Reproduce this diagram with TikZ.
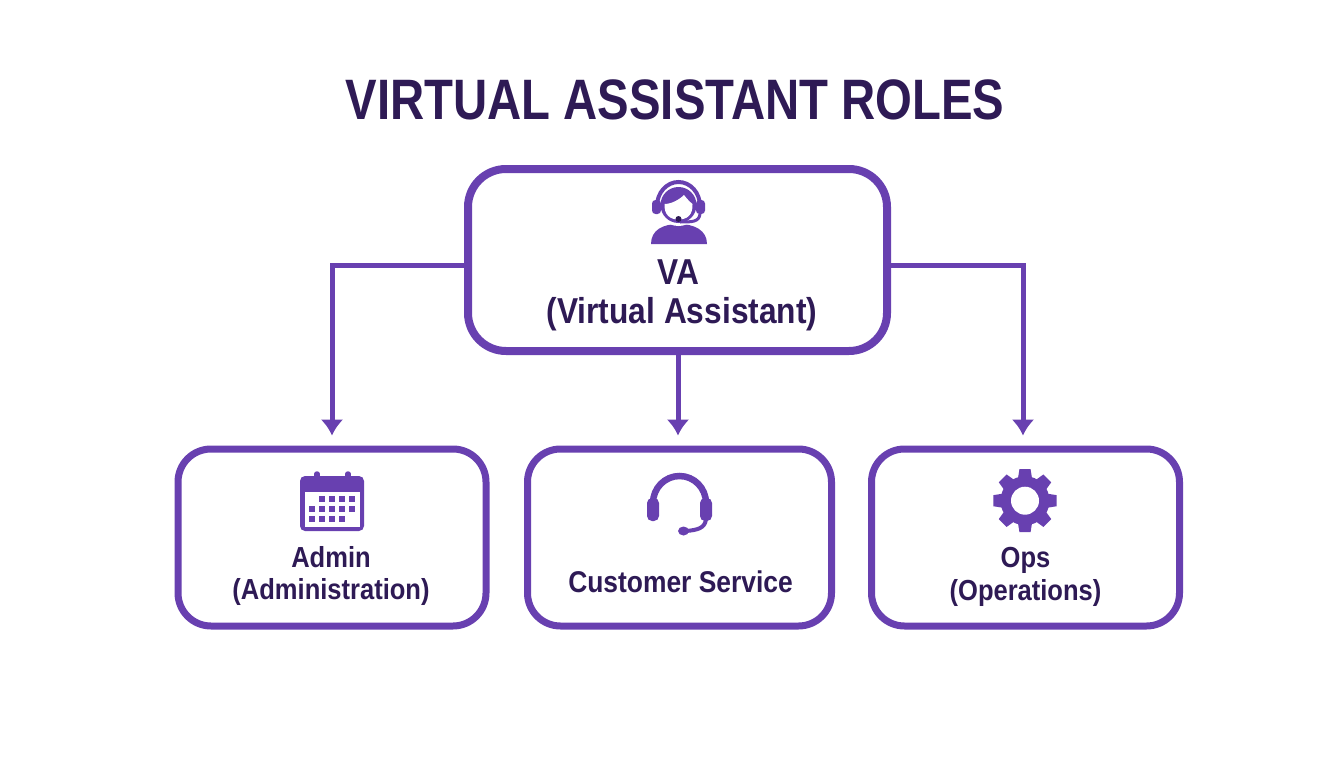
\documentclass[tikz,border=0pt]{standalone}
\usepackage{fontspec}
\setmainfont{Liberation Sans}[FakeStretch=0.88]
\newfontfamily\titlefont{Liberation Sans}[FakeStretch=0.83]
\usetikzlibrary{positioning}
\usetikzlibrary{calc}
\usetikzlibrary{arrows.meta}
\definecolor{vapurple}{HTML}{6840B0}
\definecolor{vadark}{HTML}{2E1A55}
\tikzset{
rolebox/.style={draw=vapurple,fill=white,rounded corners=33pt,line width=7pt,minimum width=308pt,minimum height=177pt},
rolelabel/.style={text=vadark,font=\fontsize{29}{32}\selectfont\bfseries,align=center,inner sep=0pt},
roleflow/.style={draw=vapurple,line width=5pt,-{Latex[length=16pt,width=23pt]},shorten >=10pt},
iconfill/.style={fill=vapurple,draw=none}
}
\begin{document}
\begin{tikzpicture}[x=1pt,y=-1pt]
\useasboundingbox (0,0) rectangle (1344,768);
\node (title) at (675,100) [text=vadark,inner sep=0pt,font=\titlefont\fontsize{57}{60}\selectfont\bfseries] {VIRTUAL ASSISTANT ROLES};

\node (va) at (677.5,260) [rolebox,minimum width=419pt,minimum height=182pt,rounded corners=38pt,line width=8pt] {};
\node (admin) at (332,537.5) [rolebox] {};
\node (cs) at (679.5,537.5) [rolebox,minimum width=304pt] {};
\node (ops) at (1025.5,537.5) [rolebox,minimum width=308pt] {};

\draw[roleflow] ([yshift=-5pt]va.west) -| (admin.north);
\draw[roleflow] ([xshift=0.5pt]va.south) -- ([xshift=-1.5pt]cs.north);
\draw[roleflow] ([yshift=-5pt]va.east) -| ([xshift=-2.5pt]ops.north);

\node (valabel) at (682,295) [rolelabel,font=\fontsize{36}{39}\selectfont\bfseries] {\hspace*{-7pt}VA\\(Virtual Assistant)};
\node (adminlabel) at (331,576) [rolelabel] {Admin\\(Administration)};
\node (cslabel) at (680.5,582) [rolelabel,font=\fontsize{30}{32}\selectfont\bfseries] {Customer Service};
\node (opslabel) at (1025.5,577) [rolelabel,font=\fontsize{29}{33}\selectfont\bfseries] {Ops\\(Operations)};

% agent icon
\fill[iconfill] (651,244) .. controls (651,230) and (663,224) .. (678.5,224) .. controls (694,224) and (707,230) .. (707,244) -- cycle;
\fill[white] (678.5,205) circle (21);
\draw[vapurple,line width=4pt] (657,206) arc (180:360:21.5 and 24);
\fill[iconfill] (678.5,205) circle (18);
\fill[white] (664.5,204) .. controls (672,204) and (680,199) .. (684,195) .. controls (687,199) and (690,202) .. (692.5,204) .. controls (693,215) and (687,219.5) .. (678.5,219.5) .. controls (670,219.5) and (664,215) .. (664.5,204) -- cycle;
\fill[iconfill,rounded corners=3.5pt] (652,200) rectangle (661,214);
\fill[iconfill,rounded corners=3.5pt] (696,200) rectangle (705,214);
\draw[vapurple,line width=3pt] (700,214) .. controls (699,222) and (692,222) .. (680,222);
\fill[vadark] (678.5,219) circle (3);

% calendar icon
\fill[iconfill,rounded corners=5pt] (300,476) rectangle (364,531);
\fill[white] (304.5,492) rectangle (359.5,527);
\foreach \ringx in {317,348} {
\draw[vapurple,line width=5.5pt,line cap=round] (\ringx,474) -- (\ringx,480);
}
\foreach \cellx/\celly in {322/499,332/499,342/499,352/499,312/509,322/509,332/509,342/509,352/509,312/519,322/519,332/519,342/519} {
\fill[iconfill] (\cellx-3.2,\celly-3.2) rectangle (\cellx+3.2,\celly+3.2);
}

% headset icon
\draw[vapurple,line width=6.5pt] (653,503) arc (180:360:26.5 and 27);
\fill[iconfill,rounded corners=5pt] (647,498) rectangle (659,521);
\fill[iconfill,rounded corners=5pt] (700,498) rectangle (712,521);
\draw[vapurple,line width=4pt] (706,519) .. controls (705,528) and (698,530) .. (686,531);
\fill[iconfill] (683.5,531) ellipse (5.5 and 4.5);

% gear icon
\coordinate (gearc) at (1025,500.7);
\fill[iconfill] (gearc) circle (24.5);
\foreach \toothangle in {0,45,...,315} {
\fill[iconfill] ($(gearc)+(\toothangle-18:23)$) -- ($(gearc)+(\toothangle-10:32)$) -- ($(gearc)+(\toothangle+10:32)$) -- ($(gearc)+(\toothangle+18:23)$) -- cycle;
}
\fill[white] (gearc) circle (14);
\end{tikzpicture}
\end{document}
